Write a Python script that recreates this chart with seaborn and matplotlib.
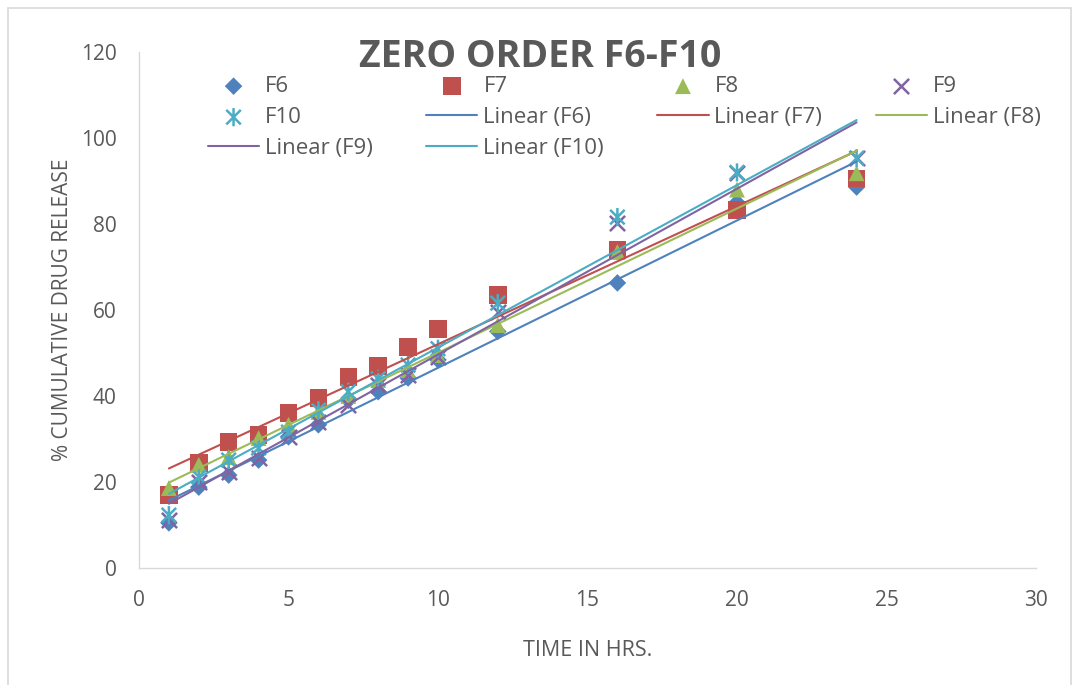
import numpy as np
import pandas as pd
import matplotlib
matplotlib.use('Agg')
import matplotlib.pyplot as plt
import seaborn as sns
from matplotlib.path import Path
from matplotlib.patches import Rectangle

# ----- data -----
hours = [1, 2, 3, 4, 5, 6, 7, 8, 9, 10, 12, 16, 20, 24]

f6  = [10.5, 18.8, 21.6, 25.1, 30.5, 33.3, 39.0, 41.0, 44.2, 48.4, 55.0, 66.3, 85.0, 88.6]
f7  = [17.0, 24.4, 29.3, 30.9, 36.0, 39.5, 44.4, 47.0, 51.4, 55.6, 63.5, 74.0, 83.3, 90.6]
f8  = [18.6, 24.0, 25.8, 30.2, 33.3, 36.3, 40.0, 43.7, 46.0, 49.5, 56.5, 73.5, 88.0, 91.8]
f9  = [11.2, 20.0, 22.3, 25.6, 30.5, 34.0, 38.0, 42.5, 45.0, 49.0, 59.5, 80.2, 91.8, 95.3]
f10 = [12.3, 21.2, 25.1, 27.9, 31.6, 36.7, 41.0, 44.0, 47.2, 51.0, 61.6, 81.6, 92.0, 95.3]

names  = ['F6', 'F7', 'F8', 'F9', 'F10']
values = [f6, f7, f8, f9, f10]
colors = ['#4F81BD', '#C0504D', '#9BBB59', '#8064A2', '#4BACC6']

# excel style "star" marker: an x with a vertical bar through it
star = Path([(-1, -1), (1, 1), (-1, 1), (1, -1), (0, -1.25), (0, 1.25)],
            [Path.MOVETO, Path.LINETO, Path.MOVETO, Path.LINETO, Path.MOVETO, Path.LINETO])
markers = ['D', 's', '^', 'x', star]
sizes   = [80, 160, 130, 120, 170]

df = pd.DataFrame({'hours': hours, **dict(zip(names, values))})

sns.set_style('white')
plt.rcParams['font.family'] = ['Open Sans', 'DejaVu Sans']
grey = '#595959'

fig = plt.figure(figsize=(10.73, 6.85), dpi=100)
ax = fig.add_axes([139 / 1073, 1 - 568 / 685, (1036 - 139) / 1073, (568 - 52) / 685])

for name, col, mk, sz in zip(names, colors, markers, sizes):
    if mk == 'x':
        sns.scatterplot(data=df, x='hours', y=name, ax=ax, marker=mk, s=sz,
                        color=col, linewidth=1.8, label=name, zorder=3)
    elif isinstance(mk, Path):
        sns.scatterplot(data=df, x='hours', y=name, ax=ax, marker=mk, s=sz,
                        color=col, edgecolor=col, facecolor='none',
                        linewidth=1.8, label=name, zorder=3)
    else:
        sns.scatterplot(data=df, x='hours', y=name, ax=ax, marker=mk, s=sz,
                        color=col, edgecolor='none', label=name, zorder=3)

for name, col in zip(names, colors):
    sns.regplot(data=df, x='hours', y=name, ax=ax, scatter=False, ci=None,
                truncate=True, line_kws={'color': col, 'lw': 1.5, 'zorder': 4},
                label='Linear (%s)' % name)

ax.set_xlim(0, 30)
ax.set_ylim(0, 120)
ax.set_xticks(range(0, 31, 5))
ax.set_yticks(range(0, 121, 20))
ax.tick_params(axis='both', length=0, labelsize=15, labelcolor=grey)
ax.tick_params(axis='x', pad=16)
ax.tick_params(axis='y', pad=16)
for side in ['top', 'right']:
    ax.spines[side].set_visible(False)
for side in ['bottom', 'left']:
    ax.spines[side].set_color('#D9D9D9')
    ax.spines[side].set_linewidth(1.0)

ax.set_xlabel('TIME IN HRS.', fontsize=15.5, color=grey, labelpad=21)
ax.set_ylabel('% CUMULATIVE DRUG RELEASE', fontsize=15, color=grey, labelpad=6)

fig.text(540 / 1073, 1 - 57 / 685, 'ZERO ORDER F6-F10', ha='center', va='center',
         fontsize=27, fontweight='bold', color=grey)

# legend: excel fills row-wise, matplotlib fills column-wise -> reorder
handles, labels = ax.get_legend_handles_labels()
lookup = dict(zip(labels, handles))
order = ['F6', 'F10', 'Linear (F9)', 'F7', 'Linear (F6)', 'Linear (F10)',
         'F8', 'Linear (F7)', 'F9', 'Linear (F8)']
ax.legend([lookup[k] for k in order], order, ncol=4, frameon=False,
          loc='upper left', bbox_to_anchor=(208 / 1073, 1 - 76 / 685),
          bbox_transform=fig.transFigure, borderpad=0, borderaxespad=0,
          fontsize=16, handlelength=2.3, handletextpad=0.27, columnspacing=2.4,
          labelspacing=0.45, labelcolor=grey)

fig.patches.append(Rectangle((8 / 1073, -0.01), (1071 - 8) / 1073, 1 - 8 / 685 + 0.01,
                             transform=fig.transFigure, fill=False,
                             edgecolor='#D9D9D9', lw=1.2))

fig.savefig('out.png', dpi=100)
